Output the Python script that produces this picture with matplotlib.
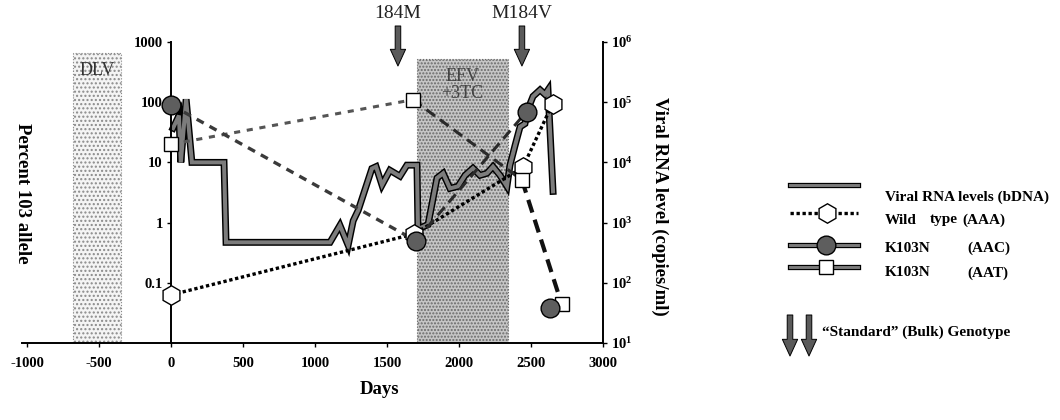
import matplotlib
matplotlib.use('Agg')
import matplotlib.pyplot as plt
import matplotlib.patheffects as pe
import matplotlib.transforms as mtrans
from matplotlib.ticker import NullLocator

plt.rcParams['font.family'] = ['Liberation Serif', 'DejaVu Serif']
plt.rcParams['mathtext.fontset'] = 'custom'
plt.rcParams['mathtext.rm'] = 'Liberation Serif'
plt.rcParams['mathtext.bf'] = 'Liberation Serif:bold'
plt.rcParams['hatch.linewidth'] = 1.0

# ---------------- data ----------------
rna_days = [14, 55, 68, 105, 145, 368, 382, 1104, 1173, 1230, 1265, 1300, 1395, 1424,
            1465, 1520, 1590, 1638, 1708, 1715, 1785, 1847, 1890, 1937, 1993, 2042,
            2097, 2146, 2194, 2236, 2285, 2333, 2354, 2389, 2424, 2458, 2479, 2514,
            2563, 2597, 2618, 2653]
rna_copies = [37000, 60000, 10000, 112000, 10000, 10000, 470, 470, 900, 420, 1070, 1600,
              7900, 8500, 4200, 7400, 5900, 9000, 9000, 780, 930, 5500, 6600, 3700,
              4000, 6100, 8000, 6100, 6600, 8500, 6100, 4000, 9000, 19000, 39000, 44000,
              77000, 125000, 160000, 135000, 160000, 3300]

wt_days = [0, 1690, 2444, 2650]          # Wild type (AAA)
wt_pct = [0.063, 0.65, 8.3, 95]
aac_days = [0, 1700, 2470, 2632]         # K103N (AAC)
aac_pct = [90, 0.5, 70, 0.038]
aat_days = [0, 1680, 2437, 2712]         # K103N (AAT)
aat_pct = [20, 110, 5.1, 0.045]

x_ticks = [-1000, -500, 0, 500, 1000, 1500, 2000, 2500, 3000]
left_ticks = [0.1, 1, 10, 100, 1000]
left_labels = ['0.1', '1', '10', '100', '1000']
right_ticks = [1e1, 1e2, 1e3, 1e4, 1e5, 1e6]
right_labels = [r'$\mathbf{10^{1}}$', r'$\mathbf{10^{2}}$', r'$\mathbf{10^{3}}$',
                r'$\mathbf{10^{4}}$', r'$\mathbf{10^{5}}$', r'$\mathbf{10^{6}}$']

dlv_span = (-680, -350)
efv_span = (1710, 2340)
arrow_days = [1576, 2437]
arrow_labels = ['184M', 'M184V']

# ---------------- figure ----------------
W, H = 1060, 420
fig = plt.figure(figsize=(W / 100, H / 100), dpi=100)
L, R, T, B = 22, 603, 42, 343
ax = fig.add_axes([L / W, 1 - B / H, (R - L) / W, (B - T) / H])
ax2 = ax.twinx()
ax.set_zorder(ax2.get_zorder() + 1)
ax.patch.set_visible(False)

ax.set_xlim(-1035, 3000)
ax.set_yscale('log')
ax.set_ylim(0.01, 1000)
ax2.set_yscale('log')
ax2.set_ylim(10, 1e6)

for s in ['top', 'right']:
    ax.spines[s].set_visible(False)
ax.spines['left'].set_position(('data', 0))
for s in ['top', 'left', 'bottom']:
    ax2.spines[s].set_visible(False)
for a in (ax, ax2):
    for s in a.spines.values():
        s.set_linewidth(1.4)

ax.set_xticks(x_ticks)
ax.set_xticklabels([str(t) for t in x_ticks], fontsize=10.5, fontweight='bold')
ax.set_yticks(left_ticks)
ax.set_yticklabels(left_labels, fontsize=10.5, fontweight='bold')
ax.yaxis.set_minor_locator(NullLocator())
ax2.set_yticks(right_ticks)
ax2.set_yticklabels(right_labels, fontsize=10.5)
ax2.yaxis.set_minor_locator(NullLocator())
ax.tick_params(axis='both', length=3, width=1, pad=3)
ax.tick_params(axis='x', pad=7)
ax2.tick_params(axis='y', length=3, width=1, pad=3)

# shading
ax2.axvspan(*dlv_span, ymin=0, ymax=0.963, facecolor='#f4f4f4', edgecolor='#8a8a8a',
            hatch='....', lw=0.8, ls=':', zorder=0)
ax2.axvspan(*efv_span, ymin=0, ymax=0.944, facecolor='#c6c6c6', edgecolor='#6a6a6a',
            hatch='.....', lw=0.8, ls=':', zorder=0)

# viral RNA curve
rna_pe = [pe.Stroke(linewidth=5.0, foreground='black'), pe.Normal()]
ax2.plot(rna_days, rna_copies, color='#7c7c7c', lw=2.9, solid_joinstyle='miter',
         path_effects=rna_pe, zorder=3)

# wild type
ax.plot(wt_days, wt_pct, color='black', lw=2.4, ls=(0, (1, 0.8)), zorder=4)
ax.plot(wt_days, wt_pct, ls='none', marker='h', ms=14, mfc='white', mec='black',
        mew=1.0, zorder=5)

# K103N AAT segments
aat_styles = [dict(color='#555555', lw=2.2, dashes=(2.0, 2.2)),
              dict(color='#2a2a2a', lw=2.2, dashes=(3.5, 2.0)),
              dict(color='#111111', lw=3.0, dashes=(3.2, 1.8))]
for i, st in enumerate(aat_styles):
    ax.plot(aat_days[i:i + 2], aat_pct[i:i + 2], zorder=4, **st)
# K103N AAC segments
aac_styles = [dict(color='#3a3a3a', lw=2.4, dashes=(2.4, 2.0)),
              dict(color='#2a2a2a', lw=2.2, dashes=(3.5, 2.0))]
for i, st in enumerate(aac_styles):
    ax.plot(aac_days[i:i + 2], aac_pct[i:i + 2], zorder=4, **st)

ax.plot(aat_days, aat_pct, ls='none', marker='s', ms=9.5, mfc='white', mec='black',
        mew=1.0, zorder=6)
ax.plot(aac_days, aac_pct, ls='none', marker='o', ms=13.5, mfc='#5e5e5e', mec='black',
        mew=1.0, zorder=7)

# region labels
ax.text(sum(dlv_span) / 2, 330, 'DLV', ha='center', va='center', fontsize=13,
        color='#333333')
ax.text(sum(efv_span) / 2, 190, 'EFV\n+3TC', ha='center', va='center', fontsize=13,
        color='#444444', linespacing=1.0)

# genotype arrows
bt = mtrans.blended_transform_factory(ax.transData, fig.transFigure)
arrow_props = dict(arrowstyle='simple,head_length=1.2,head_width=1.1,tail_width=0.4',
                   mutation_scale=10, fc='#5a5a5a', ec='black', lw=0.7,
                   shrinkA=0, shrinkB=0)
for d, lab in zip(arrow_days, arrow_labels):
    ax.annotate('', xy=(d, 1 - 66 / H), xytext=(d, 1 - 26 / H),
                xycoords=bt, textcoords=bt, arrowprops=arrow_props,
                annotation_clip=False)
    ax.text(d, 1 - 13 / H, lab, transform=bt, ha='center', va='center',
            fontsize=14, color='#222222', clip_on=False)

# axis titles
fig.text(22 / W, 1 - 193 / H, 'Percent 103 allele', rotation=-90, ha='center',
         va='center', fontsize=13.5, fontweight='bold')
fig.text(660 / W, 1 - 206 / H, 'Viral RNA level (copies/ml)', rotation=-90,
         ha='center', va='center', fontsize=13.5, fontweight='bold')
fig.text(380 / W, 1 - 390 / H, 'Days', ha='center', va='center', fontsize=13.5,
         fontweight='bold')

# ---------------- legend (pixel coordinates) ----------------
lax = fig.add_axes([0, 0, 1, 1])
lax.set_xlim(0, W)
lax.set_ylim(H, 0)
lax.axis('off')
lx0, lx1 = 790, 858
leg_pe = [pe.Stroke(linewidth=3.8, foreground='black'), pe.Normal()]
lax.plot([lx0, lx1], [185, 185], color='#7c7c7c', lw=2.1, path_effects=leg_pe)
lax.plot([lx0, lx1], [213, 213], color='black', lw=2.4, ls=(0, (1, 0.8)))
lax.plot([827], [213], marker='h', ms=14, mfc='white', mec='black', mew=1.0)
lax.plot([lx0, lx1], [245, 245], color='#7c7c7c', lw=2.1, path_effects=leg_pe)
lax.plot([826], [245], marker='o', ms=13.5, mfc='#5e5e5e', mec='black', mew=1.0)
lax.plot([lx0, lx1], [267, 267], color='#7c7c7c', lw=2.1, path_effects=leg_pe)
lax.plot([826], [267], marker='s', ms=9.5, mfc='white', mec='black', mew=1.0)

tk = dict(fontsize=11, fontweight='bold', va='center', ha='left')
lax.text(885, 197, 'Viral RNA levels (bDNA)', **tk)
lax.text(885, 220, 'Wild', **tk)
lax.text(930, 220, 'type', **tk)
lax.text(962, 220, '(AAA)', **tk)
lax.text(885, 248, 'K103N', **tk)
lax.text(967, 248, '(AAC)', **tk)
lax.text(885, 273, 'K103N', **tk)
lax.text(967, 273, '(AAT)', **tk)

for xa in (790, 809):
    lax.annotate('', xy=(xa, 356), xytext=(xa, 315), arrowprops=arrow_props)
lax.text(822, 332, '\u201cStandard\u201d (Bulk) Genotype', **tk)

fig.savefig('out.png', dpi=100)
